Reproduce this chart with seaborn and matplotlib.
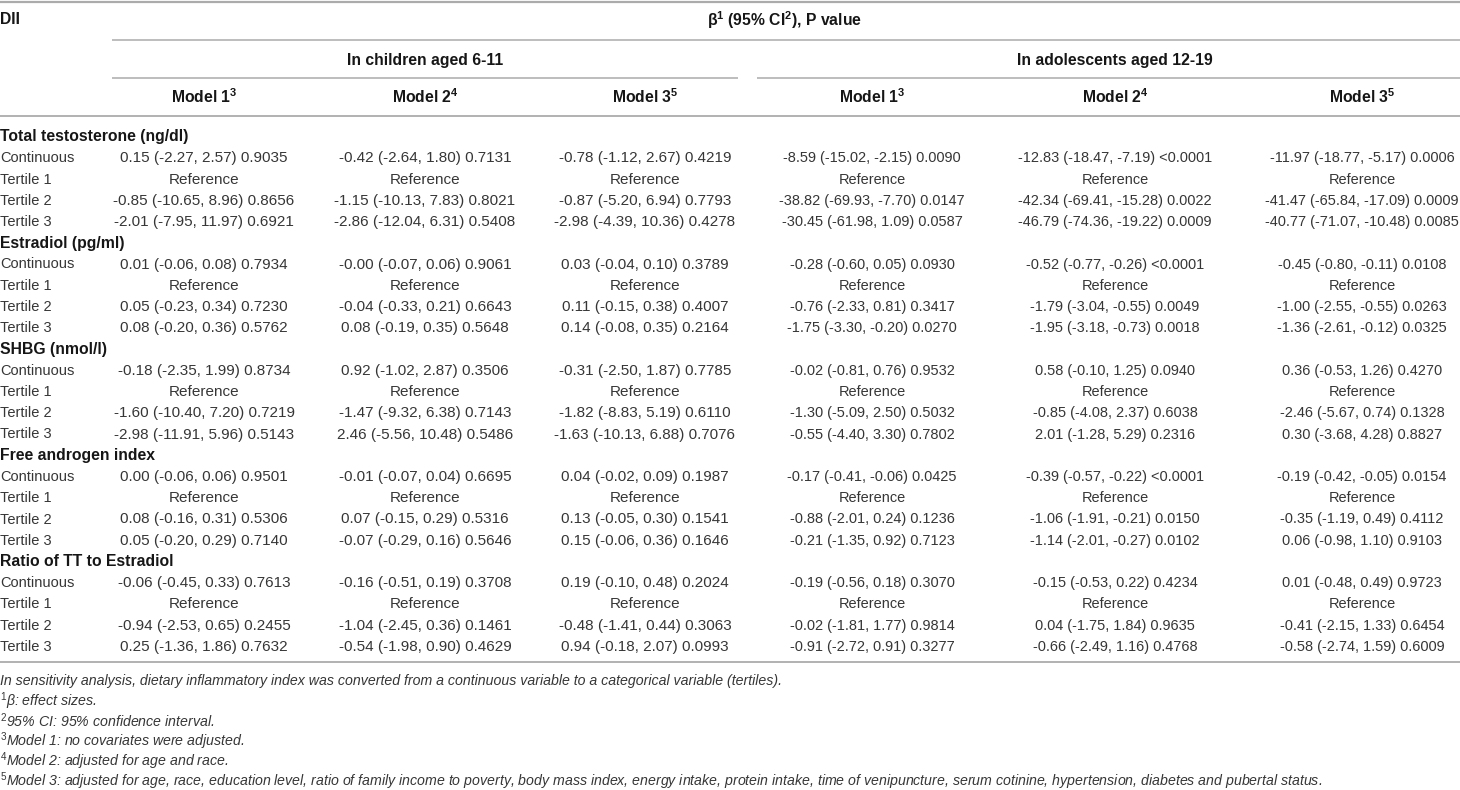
import matplotlib
matplotlib.use("Agg")
import matplotlib.pyplot as plt
from matplotlib import font_manager
import seaborn as sns

# ---------------- data ----------------
header_label = "DII"
group_titles = ["In children aged 6-11", "In adolescents aged 12-19"]
model_names = ["Model 1", "Model 2", "Model 3"]
model_sups = ["3", "4", "5"]
outcomes = ["Total testosterone (ng/dl)", "Estradiol (pg/ml)", "SHBG (nmol/l)",
            "Free androgen index", "Ratio of TT to Estradiol"]
row_labels = ["Continuous", "Tertile 1", "Tertile 2", "Tertile 3"]
reference_text = "Reference"

tt_continuous = ["0.15 (-2.27, 2.57) 0.9035", "-0.42 (-2.64, 1.80) 0.7131", "-0.78 (-1.12, 2.67) 0.4219",
                 "-8.59 (-15.02, -2.15) 0.0090", "-12.83 (-18.47, -7.19) <0.0001", "-11.97 (-18.77, -5.17) 0.0006"]
tt_tertile2 = ["-0.85 (-10.65, 8.96) 0.8656", "-1.15 (-10.13, 7.83) 0.8021", "-0.87 (-5.20, 6.94) 0.7793",
               "-38.82 (-69.93, -7.70) 0.0147", "-42.34 (-69.41, -15.28) 0.0022", "-41.47 (-65.84, -17.09) 0.0009"]
tt_tertile3 = ["-2.01 (-7.95, 11.97) 0.6921", "-2.86 (-12.04, 6.31) 0.5408", "-2.98 (-4.39, 10.36) 0.4278",
               "-30.45 (-61.98, 1.09) 0.0587", "-46.79 (-74.36, -19.22) 0.0009", "-40.77 (-71.07, -10.48) 0.0085"]

e2_continuous = ["0.01 (-0.06, 0.08) 0.7934", "-0.00 (-0.07, 0.06) 0.9061", "0.03 (-0.04, 0.10) 0.3789",
                 "-0.28 (-0.60, 0.05) 0.0930", "-0.52 (-0.77, -0.26) <0.0001", "-0.45 (-0.80, -0.11) 0.0108"]
e2_tertile2 = ["0.05 (-0.23, 0.34) 0.7230", "-0.04 (-0.33, 0.21) 0.6643", "0.11 (-0.15, 0.38) 0.4007",
               "-0.76 (-2.33, 0.81) 0.3417", "-1.79 (-3.04, -0.55) 0.0049", "-1.00 (-2.55, -0.55) 0.0263"]
e2_tertile3 = ["0.08 (-0.20, 0.36) 0.5762", "0.08 (-0.19, 0.35) 0.5648", "0.14 (-0.08, 0.35) 0.2164",
               "-1.75 (-3.30, -0.20) 0.0270", "-1.95 (-3.18, -0.73) 0.0018", "-1.36 (-2.61, -0.12) 0.0325"]

shbg_continuous = ["-0.18 (-2.35, 1.99) 0.8734", "0.92 (-1.02, 2.87) 0.3506", "-0.31 (-2.50, 1.87) 0.7785",
                   "-0.02 (-0.81, 0.76) 0.9532", "0.58 (-0.10, 1.25) 0.0940", "0.36 (-0.53, 1.26) 0.4270"]
shbg_tertile2 = ["-1.60 (-10.40, 7.20) 0.7219", "-1.47 (-9.32, 6.38) 0.7143", "-1.82 (-8.83, 5.19) 0.6110",
                 "-1.30 (-5.09, 2.50) 0.5032", "-0.85 (-4.08, 2.37) 0.6038", "-2.46 (-5.67, 0.74) 0.1328"]
shbg_tertile3 = ["-2.98 (-11.91, 5.96) 0.5143", "2.46 (-5.56, 10.48) 0.5486", "-1.63 (-10.13, 6.88) 0.7076",
                 "-0.55 (-4.40, 3.30) 0.7802", "2.01 (-1.28, 5.29) 0.2316", "0.30 (-3.68, 4.28) 0.8827"]

fai_continuous = ["0.00 (-0.06, 0.06) 0.9501", "-0.01 (-0.07, 0.04) 0.6695", "0.04 (-0.02, 0.09) 0.1987",
                  "-0.17 (-0.41, -0.06) 0.0425", "-0.39 (-0.57, -0.22) <0.0001", "-0.19 (-0.42, -0.05) 0.0154"]
fai_tertile2 = ["0.08 (-0.16, 0.31) 0.5306", "0.07 (-0.15, 0.29) 0.5316", "0.13 (-0.05, 0.30) 0.1541",
                "-0.88 (-2.01, 0.24) 0.1236", "-1.06 (-1.91, -0.21) 0.0150", "-0.35 (-1.19, 0.49) 0.4112"]
fai_tertile3 = ["0.05 (-0.20, 0.29) 0.7140", "-0.07 (-0.29, 0.16) 0.5646", "0.15 (-0.06, 0.36) 0.1646",
                "-0.21 (-1.35, 0.92) 0.7123", "-1.14 (-2.01, -0.27) 0.0102", "0.06 (-0.98, 1.10) 0.9103"]

ratio_continuous = ["-0.06 (-0.45, 0.33) 0.7613", "-0.16 (-0.51, 0.19) 0.3708", "0.19 (-0.10, 0.48) 0.2024",
                    "-0.19 (-0.56, 0.18) 0.3070", "-0.15 (-0.53, 0.22) 0.4234", "0.01 (-0.48, 0.49) 0.9723"]
ratio_tertile2 = ["-0.94 (-2.53, 0.65) 0.2455", "-1.04 (-2.45, 0.36) 0.1461", "-0.48 (-1.41, 0.44) 0.3063",
                  "-0.02 (-1.81, 1.77) 0.9814", "0.04 (-1.75, 1.84) 0.9635", "-0.41 (-2.15, 1.33) 0.6454"]
ratio_tertile3 = ["0.25 (-1.36, 1.86) 0.7632", "-0.54 (-1.98, 0.90) 0.4629", "0.94 (-0.18, 2.07) 0.0993",
                  "-0.91 (-2.72, 0.91) 0.3277", "-0.66 (-2.49, 1.16) 0.4768", "-0.58 (-2.74, 1.59) 0.6009"]

footnotes = [
    "In sensitivity analysis, dietary inflammatory index was converted from a continuous variable to a categorical variable (tertiles).",
    "$^{1}$β: effect sizes.",
    "$^{2}$95% CI: 95% confidence interval.",
    "$^{3}$Model 1: no covariates were adjusted.",
    "$^{4}$Model 2: adjusted for age and race.",
    "$^{5}$Model 3: adjusted for age, race, education level, ratio of family income to poverty, body mass index, energy intake, protein intake, time of venipuncture, serum cotinine, hypertension, diabetes and pubertal status.",
]

blocks = [
    (outcomes[0], [tt_continuous, None, tt_tertile2, tt_tertile3]),
    (outcomes[1], [e2_continuous, None, e2_tertile2, e2_tertile3]),
    (outcomes[2], [shbg_continuous, None, shbg_tertile2, shbg_tertile3]),
    (outcomes[3], [fai_continuous, None, fai_tertile2, fai_tertile3]),
    (outcomes[4], [ratio_continuous, None, ratio_tertile2, ratio_tertile3]),
]

# ---------------- style ----------------
sns.set_theme(style="white")
available = {f.name for f in font_manager.fontManager.ttflist}
if "Liberation Sans Narrow" in available:
    fam = "Liberation Sans Narrow"
    k = 1.0
else:
    fam = "Liberation Sans"
    k = 0.84
plt.rcParams["font.family"] = [fam, "DejaVu Sans"]
plt.rcParams["mathtext.fontset"] = "custom"
plt.rcParams["mathtext.rm"] = fam
plt.rcParams["mathtext.it"] = fam + ":italic"
plt.rcParams["mathtext.bf"] = fam + ":bold"

fs_head = 13.5 * k
fs_label = 12.5 * k
fs_child = 13.1 * k
fs_adol = 12.4 * k
fs_note = 12.15 * k

body_color = "#363636"
head_color = "#161616"
rule_color = "#ababab"

fig = plt.figure(figsize=(14.6, 7.9), dpi=100)
ax = fig.add_axes([0, 0, 1, 1])
ax.set_xlim(0, 1460)
ax.set_ylim(790, 0)
ax.axis("off")

col_centers = [204, 425, 645, 872, 1115, 1362]
group_centers = [425, 1115]
group_spans = [(112, 738), (757, 1460)]

# rules
ax.plot([0, 1460], [2, 2], color=rule_color, lw=1.6, solid_capstyle="butt")
ax.plot([112, 1460], [40, 40], color=rule_color, lw=1.1, solid_capstyle="butt")
for (x0, x1) in group_spans:
    ax.plot([x0, x1], [78, 78], color=rule_color, lw=1.1, solid_capstyle="butt")
ax.plot([0, 1460], [116, 116], color=rule_color, lw=1.3, solid_capstyle="butt")
ax.plot([0, 1460], [662, 662], color=rule_color, lw=1.3, solid_capstyle="butt")

# headers
ax.text(0, 20, header_label, ha="left", va="center", fontsize=fs_head, fontweight="bold", color=head_color)
ax.text(785, 20, r"β$^{\mathbf{1}}$ (95% CI$^{\mathbf{2}}$), P value", ha="center", va="center",
        fontsize=fs_head, fontweight="bold", color=head_color)
for gc, gt in zip(group_centers, group_titles):
    ax.text(gc, 60, gt, ha="center", va="center", fontsize=fs_head, fontweight="bold", color=head_color)
for i, cx in enumerate(col_centers):
    name = model_names[i % 3]
    sup = model_sups[i % 3]
    ax.text(cx, 97, name + r"$^{\mathbf{" + sup + "}}$", ha="center", va="center",
            fontsize=fs_head, fontweight="bold", color=head_color)

# body
y0 = 137
step = 21.25
r = 0
for title, rows in blocks:
    y = y0 + r * step
    ax.text(0, y, title, ha="left", va="center", fontsize=fs_head, fontweight="bold", color=head_color)
    r += 1
    for lab, vals in zip(row_labels, rows):
        y = y0 + r * step
        ax.text(0, y, lab, ha="left", va="center", fontsize=fs_label, color=body_color)
        for j, cx in enumerate(col_centers):
            txt = reference_text if vals is None else vals[j]
            ax.text(cx, y, txt, ha="center", va="center",
                    fontsize=fs_child if j < 3 else fs_adol, color=body_color)
        r += 1

# footnotes
fy = 681
for n, fn in enumerate(footnotes):
    ax.text(0, fy + n * 20.1, fn, ha="left", va="center", fontsize=fs_note, style="italic", color=body_color)

fig.savefig("out.png", dpi=100, facecolor="white")
